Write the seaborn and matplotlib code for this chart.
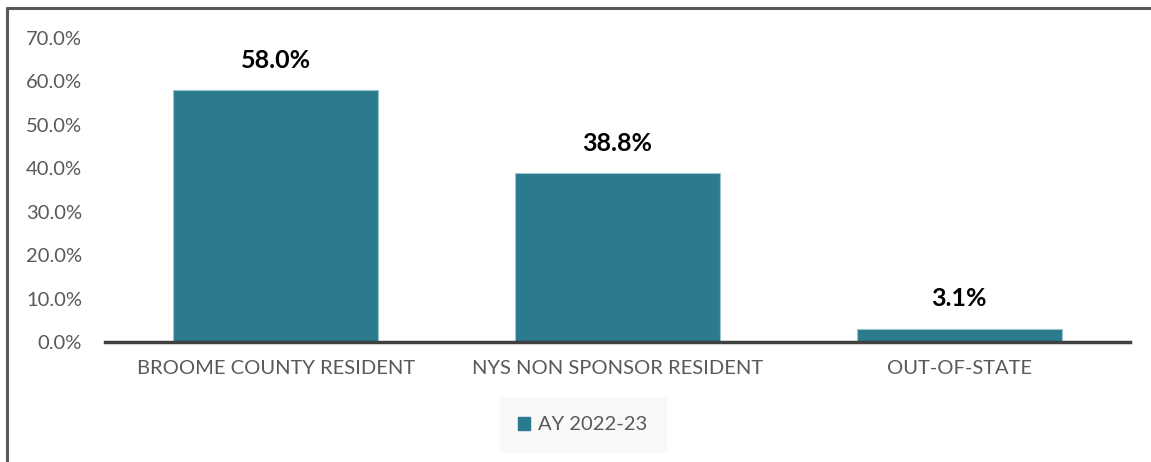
import matplotlib
matplotlib.use("Agg")
import matplotlib.pyplot as plt
import seaborn as sns
import pandas as pd
from matplotlib.lines import Line2D
from matplotlib.patches import Patch

categories = ["BROOME COUNTY RESIDENT", "NYS NON SPONSOR RESIDENT", "OUT-OF-STATE"]
values = [58.0, 38.8, 3.1]
series_name = "AY 2022-23"
yticks = [0, 10, 20, 30, 40, 50, 60, 70]

BAR = "#2B7A8E"
sns.set_theme(style="white")
plt.rcParams["font.family"] = ["Lato", "DejaVu Sans"]

df = pd.DataFrame({"cat": categories, "val": values, "series": [series_name] * len(values)})

fig = plt.figure(figsize=(11.51, 4.62), dpi=100)
ax = fig.add_axes([105 / 1151, 1 - 342 / 462, 1025 / 1151, (342 - 38) / 462])
sns.barplot(data=df, x="cat", y="val", hue="series", palette=[BAR], width=0.6, saturation=1,
            dodge=False, ax=ax, edgecolor="#9cc6d1", linewidth=0.8, legend=False)

ax.set_ylim(0, 70)
ax.set_xlim(-0.5, len(categories) - 0.5)
ax.set_yticks(yticks)
ax.set_yticklabels([f"{t:.1f}%" for t in yticks], color="#595959", fontsize=14.5)
ax.tick_params(axis="x", labelsize=14.5, labelcolor="#595959", pad=13, length=0)
ax.tick_params(axis="y", length=0, pad=16.5)
ax.set_xlabel("")
ax.set_ylabel("")
for s in ["top", "right", "left"]:
    ax.spines[s].set_visible(False)
ax.spines["bottom"].set_color("#404040")
ax.spines["bottom"].set_linewidth(2.5)
ax.grid(False)

for c in ax.containers:
    ax.bar_label(c, labels=[f"{v:.1f}%" for v in values], padding=13,
                 fontsize=18, fontweight="bold", color="black")

handle = Patch(facecolor=BAR, edgecolor=BAR)
leg = fig.legend([handle], [series_name], loc="center", bbox_to_anchor=(583 / 1151, 1 - 425 / 462),
                 frameon=True, fontsize=14.5, handlelength=0.6, handleheight=0.6, handletextpad=0.4,
                 borderpad=0.6, borderaxespad=0)
leg.get_frame().set_facecolor("#f8f8f8")
leg.get_frame().set_edgecolor("#f8f8f8")
leg.get_frame().set_boxstyle("square")
for t in leg.get_texts():
    t.set_color("#595959")

# figure border (top and left)
fig.add_artist(Line2D([7.5 / 1151, 1], [1 - 7.5 / 462, 1 - 7.5 / 462], color="#595959", lw=2.2,
                      transform=fig.transFigure))
fig.add_artist(Line2D([7.5 / 1151, 7.5 / 1151], [0, 1 - 7.5 / 462], color="#595959", lw=2.2,
                      transform=fig.transFigure))

fig.savefig("out.png", dpi=100)
